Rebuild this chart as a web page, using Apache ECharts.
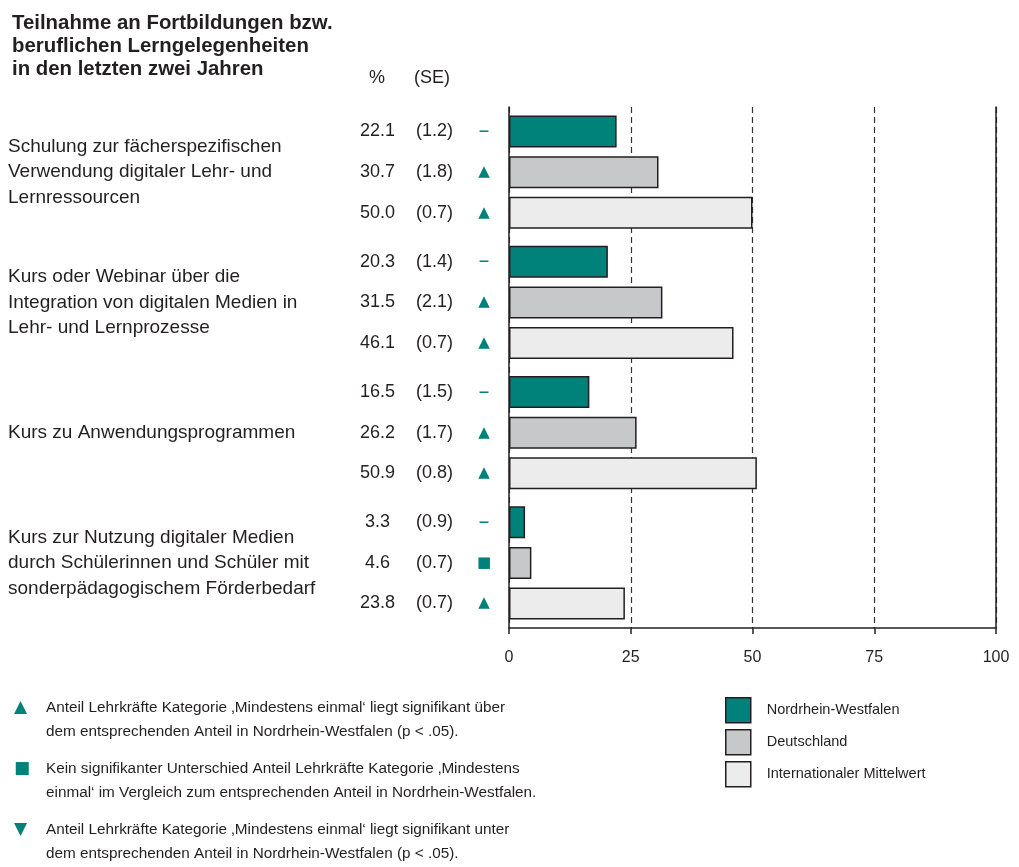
<!DOCTYPE html>
<html>
<head>
<meta charset="utf-8">
<script src="https://cdn.jsdelivr.net/npm/echarts@6/dist/echarts.min.js"></script>
<style>
  html, body { margin: 0; padding: 0; background: #fff; }
  #chart { width: 1019px; height: 867px; }
</style>
</head>
<body>
<div id="chart"></div>
<script>
// Kategorien (Gruppen)
var categories = [
  'Schulung zur fächerspezifischen\nVerwendung digitaler Lehr- und\nLernressourcen',
  'Kurs oder Webinar über die\nIntegration von digitalen Medien in\nLehr- und Lernprozesse',
  'Kurs zu Anwendungsprogrammen',
  'Kurs zur Nutzung digitaler Medien\ndurch Schülerinnen und Schüler mit\nsonderpädagogischem Förderbedarf'
]
var seriesNames = ['Nordrhein-Westfalen', 'Deutschland', 'Internationaler Mittelwert']

// Anteile in %
var nrwValues = [22.1, 20.3, 16.5, 3.3]
var deValues = [30.7, 31.5, 26.2, 4.6]
var intValues = [50.0, 46.1, 50.9, 23.8]

// Standardfehler
var nrwSE = [1.2, 1.4, 1.5, 0.9]
var deSE = [1.8, 2.1, 1.7, 0.7]
var intSE = [0.7, 0.7, 0.8, 0.7]

// Signifikanz: 'none' = Referenz, 'up', 'down', 'eq'
var nrwSig = ['none', 'none', 'none', 'none']
var deSig = ['up', 'up', 'up', 'eq']
var intSig = ['up', 'up', 'up', 'up']

var xTicks = [0, 25, 50, 75, 100]

var notes = [
  { sig: 'up', text: 'Anteil Lehrkräfte Kategorie \u201aMindestens einmal\u2018 liegt signifikant über\ndem entsprechenden Anteil in Nordrhein-Westfalen (p < .05).' },
  { sig: 'eq', text: 'Kein signifikanter Unterschied Anteil Lehrkräfte Kategorie \u201aMindestens\neinmal\u2018 im Vergleich zum entsprechenden Anteil in Nordrhein-Westfalen.' },
  { sig: 'down', text: 'Anteil Lehrkräfte Kategorie \u201aMindestens einmal\u2018 liegt signifikant unter\ndem entsprechenden Anteil in Nordrhein-Westfalen (p < .05).' }
]

var colors = ['#00827a', '#c7c8ca', '#ececec']
var teal = '#00827a'
var textColor = '#231f20'
var font = '"Liberation Sans", Arial, sans-serif'

var sigGlyph = { none: '\u2013', up: '\u25b2', down: '\u25bc', eq: '\u25a0' }

function makeSeries(idx, values, se, sig) {
  return {
    name: seriesNames[idx],
    type: 'bar',
    barWidth: 32,
    barGap: '27%',
    data: values,
    itemStyle: {
      color: colors[idx],
      borderColor: '#231f20',
      borderWidth: 1.5
    },
    label: {
      show: true,
      position: 'left',
      distance: 0,
      formatter: function (p) {
        var s = sig[p.dataIndex]
        var mk = s === 'none' ? '{d|' + sigGlyph[s] + '}' : '{m|' + sigGlyph[s] + '}'
        return '{v|' + values[p.dataIndex].toFixed(1) + '}{g|}{se|(' + se[p.dataIndex].toFixed(1) + ')}' + mk
      },
      rich: {
        v: { width: 45, align: 'right', fontSize: 18, fontFamily: font, color: textColor },
        g: { width: 10 },
        se: { width: 49, align: 'left', fontSize: 18, fontFamily: font, color: textColor },
        m: { width: 50, align: 'center', fontSize: 15, fontFamily: '"DejaVu Sans", sans-serif', color: teal },
        d: { width: 50, align: 'center', fontSize: 22, fontFamily: '"DejaVu Sans", sans-serif', color: teal }
      }
    },
    emphasis: { disabled: true },
    animation: false
  }
}

var chart = echarts.init(document.getElementById('chart'))

var noteGraphics = []
notes.forEach(function (n, i) {
  var top = 696 + i * 61
  noteGraphics.push({
    type: 'text', left: 14, top: top + 3,
    style: { text: sigGlyph[n.sig], font: '17px "DejaVu Sans", sans-serif', fill: teal }
  })
  noteGraphics.push({
    type: 'text', left: 46, top: top,
    style: { text: n.text, font: '15.3px ' + font, fill: textColor, lineHeight: 24 }
  })
})

chart.setOption({
  animation: false,
  textStyle: { fontFamily: font },
  grid: { left: 509, right: 23, top: 107, bottom: 239 },
  legend: {
    orient: 'vertical',
    left: 720,
    top: 692,
    itemWidth: 25,
    itemHeight: 25,
    itemGap: 5.5,
    icon: 'rect',
    selectedMode: false,
    data: seriesNames,
    textStyle: { fontSize: 14.5, color: textColor, fontFamily: font, padding: [0, 0, 0, 11] },
    itemStyle: { borderColor: '#231f20', borderWidth: 1.5 }
  },
  xAxis: {
    type: 'value',
    min: xTicks[0],
    max: xTicks[xTicks.length - 1],
    interval: 25,
    axisLine: { show: true, lineStyle: { color: '#231f20', width: 1.5 } },
    axisTick: { show: true, length: 6, lineStyle: { color: '#231f20', width: 1.5 } },
    axisLabel: { fontSize: 16, color: textColor, margin: 22, fontFamily: font },
    splitLine: { show: true, lineStyle: { color: '#333', type: [6, 4], width: 1.2 } }
  },
  yAxis: [
    {
      type: 'category',
      inverse: true,
      data: categories,
      axisLine: { show: true, lineStyle: { color: '#231f20', width: 1.5 } },
      axisTick: { show: false },
      axisLabel: {
        align: 'left',
        margin: 501,
        fontSize: 19,
        lineHeight: 25.5,
        color: textColor,
        fontFamily: font
      }
    },
    {
      type: 'category',
      inverse: true,
      position: 'right',
      data: categories,
      axisLine: { show: true, lineStyle: { color: '#231f20', width: 1.5 } },
      axisTick: { show: false },
      axisLabel: { show: false }
    }
  ],
  graphic: [
    {
      type: 'text', left: 12, top: 12,
      style: {
        text: 'Teilnahme an Fortbildungen bzw.\nberuflichen Lerngelegenheiten\nin den letzten zwei Jahren',
        font: 'bold 20.4px ' + font, fill: textColor, lineHeight: 23
      }
    },
    { type: 'text', left: 369, top: 69, style: { text: '%', font: '18px ' + font, fill: textColor } },
    { type: 'text', left: 414, top: 69, style: { text: '(SE)', font: '18px ' + font, fill: textColor } }
  ].concat(noteGraphics),
  series: [
    makeSeries(0, nrwValues, nrwSE, nrwSig),
    makeSeries(1, deValues, deSE, deSig),
    makeSeries(2, intValues, intSE, intSig)
  ]
})
</script>
</body>
</html>
